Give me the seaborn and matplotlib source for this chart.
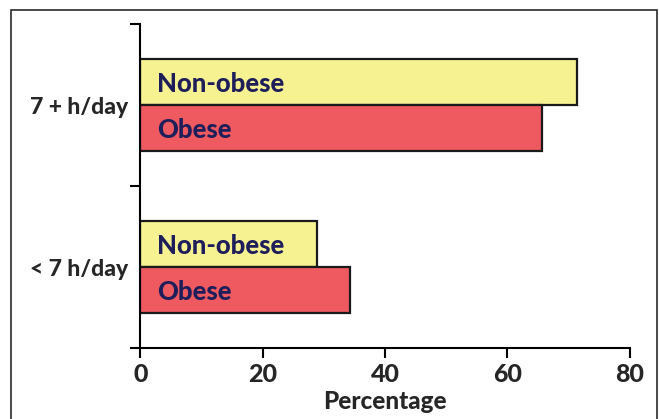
import matplotlib
matplotlib.use("Agg")
import matplotlib.pyplot as plt
from matplotlib.patches import Rectangle
import seaborn as sns
import pandas as pd

categories = ["7 + h/day", "< 7 h/day"]
groups = ["Non-obese", "Obese"]
non_obese = [71.3, 28.8]
obese = [65.7, 34.3]
x_ticks = [0, 20, 40, 60, 80]
x_label = "Percentage"

df = pd.DataFrame({
    "category": categories * 2,
    "group": [groups[0]] * 2 + [groups[1]] * 2,
    "value": non_obese + obese,
})

sns.set_style("white")
plt.rcParams["font.family"] = ["Lato", "DejaVu Sans"]
W = 900

fig = plt.figure(figsize=(6.59, 4.19), dpi=100)
ax = fig.add_axes([140.3 / 659, 1 - 348 / 419, (629.8 - 140.3) / 659, (348 - 24) / 419])

palette = {"Non-obese": "#F6F292", "Obese": "#EE5A60"}
sns.barplot(data=df, y="category", x="value", hue="group", order=categories,
            hue_order=groups, palette=palette, orient="h", width=0.57,
            edgecolor="#1a1a1a", linewidth=1.6, legend=False, ax=ax, saturation=1)

for cont, name in zip(ax.containers, groups):
    for p in cont.patches:
        ax.text(2.8, p.get_y() + p.get_height() / 2, name, ha="left", va="center_baseline",
                fontsize=18.5, fontweight=W, color="#1E1E5A")

ax.set_xlim(0, 80)
ax.set_ylim(1.5, -0.5)
ax.set_xticks(x_ticks)
ax.set_xticklabels([str(t) for t in x_ticks], fontsize=18, fontweight=W)
ax.set_yticks([0, 1])
ax.set_yticklabels(categories, fontsize=16.5, fontweight=W)
ax.set_yticks([-0.5, 0.5, 1.5], minor=True)
ax.tick_params(axis="y", which="major", length=0, pad=9)
ax.tick_params(axis="y", which="minor", length=7, width=1.5, color="black", direction="out", left=True)
ax.tick_params(axis="x", length=7, width=1.5, color="black", direction="out", bottom=True, pad=4)
ax.set_xlabel(x_label, fontsize=17.5, fontweight=W, labelpad=2.5)
ax.set_ylabel("")
for s in ["top", "right"]:
    ax.spines[s].set_visible(False)
for s in ["left", "bottom"]:
    ax.spines[s].set_color("black")
    ax.spines[s].set_linewidth(1.5)

fig.patches.append(Rectangle((11 / 659, -0.05), (657 - 11) / 659, 1.05 - 10.5 / 419,
                             transform=fig.transFigure, fill=False, edgecolor="#2a2a2a",
                             linewidth=1.2))

fig.savefig("out.png", dpi=100)
